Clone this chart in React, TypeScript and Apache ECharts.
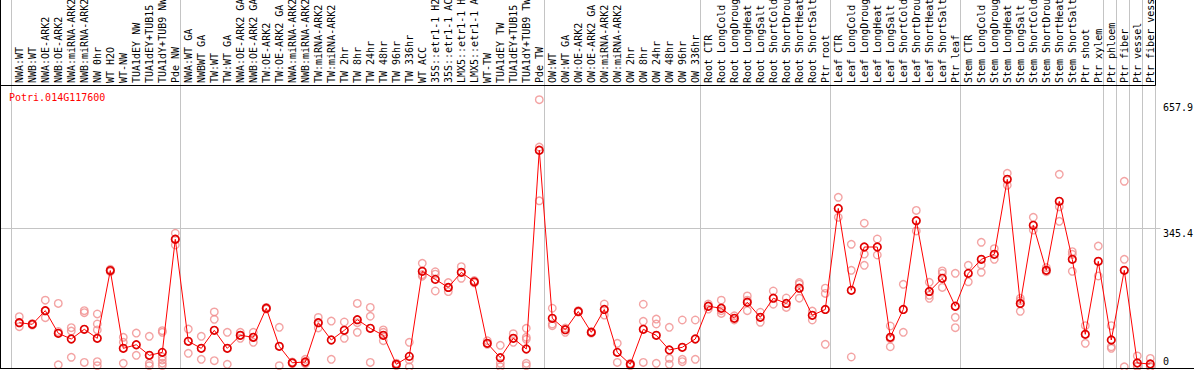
import React, { useEffect, useRef } from "react";
import * as echarts from "echarts";

const title = "Potri.014G117600";

const categories = [
  "NWA:WT", "NWB:WT", "NWA:OE-ARK2", "NWB:OE-ARK2", "NWA:miRNA-ARK2", "NWB:miRNA-ARK2",
  "NW 0hr", "WT H2O", "WT-NW", "TUA1dEY NW", "TUA1dEY+TUB15 NW", "TUA1dY+TUB9 NW", "Pde NW",
  "NWA:WT GA", "NWBWT GA", "TW:WT", "TW:WT GA", "NWA:OE-ARK2 GA", "NWB:OE-ARK2 GA",
  "TW:OE-ARK2", "TW:OE-ARK2 GA", "NWA:miRNA-ARK2", "NWB:miRNA-ARK2", "TW:miRNA-ARK2",
  "TW:miRNA-ARK2", "TW 2hr", "TW 8hr", "TW 24hr", "TW 48hr", "TW 96hr", "TW 336hr", "WT ACC",
  "35S::etr1-1 H2O", "35S::etr1-1 ACC", "LMX5::etr1-1 H2O", "LMX5::etr1-1 ACC", "WT-TW",
  "TUA1dEY TW", "TUA1dEY+TUB15 TW", "TUA1dY+TUB9 TW", "Pde TW",
  "OW:WT", "OW:WT GA", "OW:OE-ARK2", "OW:OE-ARK2 GA", "OW:miRNA-ARK2", "OW:miRNA-ARK2",
  "OW 2hr", "OW 8hr", "OW 24hr", "OW 48hr", "OW 96hr", "OW 336hr",
  "Root CTR", "Root LongCold", "Root LongDrought", "Root LongHeat", "Root LongSalt",
  "Root ShortCold", "Root ShortDrought", "Root ShortHeat", "Root ShortSalt", "Ptr root",
  "Leaf CTR", "Leaf LongCold", "Leaf LongDrought", "Leaf LongHeat", "Leaf LongSalt",
  "Leaf ShortCold", "Leaf ShortDrought", "Leaf ShortHeat", "Leaf ShortSalt", "Ptr leaf",
  "Stem CTR", "Stem LongCold", "Stem LongDrought", "Stem LongHeat", "Stem LongSalt",
  "Stem ShortCold", "Stem ShortDrought", "Stem ShortHeat", "Stem ShortSalt", "Ptr shoot",
  "Ptr xylem", "Ptr phloem", "Ptr fiber", "Ptr vessel", "Ptr fiber vessel",
];

const means = [
  110, 106, 140, 83.5, 69.3, 93.5, 71, 240, 46, 55, 28.6, 36, 318,
  63.6, 46, 91, 46, 78.5, 73.6, 146, 51, 10, 12, 110, 66.8, 91, 117.5, 96, 78.5, 6.2, 26,
  238, 218, 198, 235.5, 212, 58.6, 22.7, 71, 44.4, 540,
  121, 92.5, 138, 86, 143, 36, 6.2, 93.5, 78.5, 42, 48.6, 69.3,
  151, 146, 121, 161, 123.4, 171, 158, 196, 128.4, 143,
  395, 190.8, 298.7, 298.7, 73.6, 143, 364.4, 188, 220.7, 151,
  233, 268, 280.5, 467.6, 158, 352.9, 240.6, 412.7, 268, 81, 263,
  66.8, 240.6, 9.5, 7,
];

const replicates = [
  [125, 110, 100], [108, 106, 104], [166, 140, 122.5], [158, 88, 5], [97.5, 89, 23.7],
  [140, 135, 11], [131.7, 106.7, 92, 12.7, 2.7], [243, 240, 237], [73.6, 61, 8.7], [84, 28.6],
  [76, 8.7, 2.7], [90, 86, 25, 17, 9, 3], [333, 318, 303.7],
  [94, 33.6], [76, 18.7], [136.7, 118.4, 15.2], [86, 6.2], [86, 78.5, 71], [86, 73.6, 61],
  [148, 146, 144], [98.5, 2.7], [12, 10, 8], [18.7, 10, 8], [123, 110, 97], [114, 18.7],
  [111.7, 71], [158, 110, 86], [148, 126, 11], [92, 86, 65], [9, 6, 3], [61, 17, 0],
  [258, 230, 226], [237, 231, 189], [210, 198, 187.5], [249.6, 220.7], [215, 211, 209],
  [65, 56], [53.6, 8.7, 0.2], [82.5, 61], [96, 73.6, 68.6, 8.7, 2.7], [666, 548, 414],
  [146, 106.7, 102.5], [96.7, 86], [140, 138, 136], [88, 86, 84], [156.6, 129], [58.6, 11],
  [8.7, 7, 2.7], [156, 113.5, 11], [119, 106.7, 8.7], [98.5, 21, 6.2], [116.7, 18.7, 12.7],
  [116.7, 18.7],
  [156.6, 144], [166, 140, 133], [127, 116.7], [176.6, 166, 140], [136, 111], [189, 156],
  [171.6, 148], [210, 206, 171], [139, 116.7], [196, 183, 56],
  [422.7, 372.8], [305.5, 240.6, 24.4], [358, 281, 253], [318.7, 278.8], [101.7, 70, 50],
  [205.7, 86], [390, 338.7], [210.7, 178.3, 170.8], [239, 233, 198], [233, 123.4, 97.5],
  [253, 212], [310.5, 253.9, 235.7], [294.5, 268], [482.5, 452.6], [170.8, 165, 138.4],
  [372.8, 341], [247.5, 237], [480, 399, 362.8], [287, 280.5, 238], [102.5, 58.6],
  [301, 226.4], [102.5, 50, 46], [462.6, 268, 0], [27, 2, 0], [21, 0, 0],
];

// index of first category of each group (and the end)
const groupBoundaries = [0, 13, 41, 53, 63, 73, 84, 85, 86, 87, 88];
const yTickValues = [657.9, 345.4, 0];
const yGridValue = 345.4;

const FONT = "DejaVu Sans Mono";

export default function App() {
  const ref = useRef<HTMLDivElement>(null);

  useEffect(() => {
    if (!ref.current) return;
    const chart = echarts.init(ref.current, null, { renderer: "svg", width: 1194, height: 370 });
    const xMin = -0.638;

    const repPoints: number[][] = [];
    replicates.forEach((arr, i) => arr.forEach((v) => repPoints.push([i, v])));

    chart.setOption({
      animation: false,
      grid: [
        { left: 11, width: 1144, top: 85, height: 283 },
        { left: 12.5, width: 1144, top: 0, height: 85 },
      ],
      xAxis: [
        { type: "value", gridIndex: 0, min: xMin, max: xMin + categories.length, show: false },
        {
          type: "category",
          gridIndex: 1,
          data: categories,
          position: "bottom",
          boundaryGap: true,
          axisLine: { show: false },
          axisTick: { show: false },
          splitLine: { show: false },
          axisLabel: {
            inside: true,
            rotate: 90,
            interval: 0,
            margin: 2,
            fontFamily: FONT,
            fontSize: 10,
            color: "#000",
          },
        },
      ],
      yAxis: [
        { type: "value", gridIndex: 0, min: -3, max: 702.7, show: false },
        { type: "value", gridIndex: 1, show: false },
      ],
      series: [
        {
          type: "scatter",
          xAxisIndex: 0,
          yAxisIndex: 0,
          data: repPoints,
          symbol: "circle",
          symbolSize: 7.5,
          silent: true,
          z: 2,
          itemStyle: { color: "rgba(0,0,0,0)", borderColor: "#f08c8c", borderWidth: 1.4 },
        },
        {
          type: "line",
          xAxisIndex: 0,
          yAxisIndex: 0,
          data: means.map((v, i) => [i, v]),
          symbol: "circle",
          symbolSize: 7.5,
          showSymbol: true,
          showAllSymbol: true,
          silent: true,
          z: 3,
          lineStyle: { color: "#ff0000", width: 1 },
          itemStyle: { color: "rgba(0,0,0,0)", borderColor: "#e00000", borderWidth: 1.7 },
        },
      ],
    });

    const px = (v: number) => chart.convertToPixel({ xAxisIndex: 0 }, v) as number;
    const py = (v: number) => chart.convertToPixel({ yAxisIndex: 0 }, v) as number;
    const crisp = (v: number) => Math.round(v - 0.5) + 0.5;

    const bottomY = crisp(py(-3));
    const topY = 85.5;
    const rightX = crisp(px(xMin + categories.length));

    const elements: any[] = [];
    groupBoundaries.forEach((k) => {
      const x = crisp(px(k + xMin));
      elements.push({
        type: "line",
        z: -1,
        silent: true,
        shape: { x1: x, y1: 0, x2: x, y2: bottomY },
        style: { stroke: "#c4c4c4", lineWidth: 1 },
      });
    });
    const gy = crisp(py(yGridValue));
    elements.push({
      type: "line",
      z: -1,
      silent: true,
      shape: { x1: 0, y1: gy, x2: rightX + 5, y2: gy },
      style: { stroke: "#c4c4c4", lineWidth: 1 },
    });
    // frame
    const black = (x1: number, y1: number, x2: number, y2: number) => ({
      type: "line",
      z: 10,
      silent: true,
      shape: { x1, y1, x2, y2 },
      style: { stroke: "#000", lineWidth: 1 },
    });
    elements.push(black(0.5, 0, 0.5, bottomY));
    elements.push(black(0, bottomY, 1194, bottomY));
    elements.push(black(0, topY, rightX, topY));
    elements.push(black(rightX, 0, rightX, topY));

    elements.push({
      type: "text",
      z: 10,
      silent: true,
      style: {
        text: title,
        x: 9,
        y: 97,
        fill: "#ff0000",
        font: `10px '${FONT}'`,
        textAlign: "left",
        textVerticalAlign: "middle",
        align: "left",
        verticalAlign: "middle",
      },
    });
    yTickValues.forEach((v) => {
      const isZero = v === 0;
      elements.push({
        type: "text",
        z: 10,
        silent: true,
        style: {
          text: String(v),
          x: rightX + 7.5,
          y: isZero ? py(v) : py(v),
          fill: "#000",
          font: `10px '${FONT}'`,
          textAlign: "left",
          textVerticalAlign: isZero ? "bottom" : "top",
          align: "left",
          verticalAlign: isZero ? "bottom" : "top",
        },
      });
    });

    chart.setOption({ graphic: { elements } });

    return () => chart.dispose();
  }, []);

  return (
    <div
      ref={ref}
      style={{ position: "fixed", left: 0, top: 0, width: 1194, height: 370, background: "#fff" }}
    />
  );
}
